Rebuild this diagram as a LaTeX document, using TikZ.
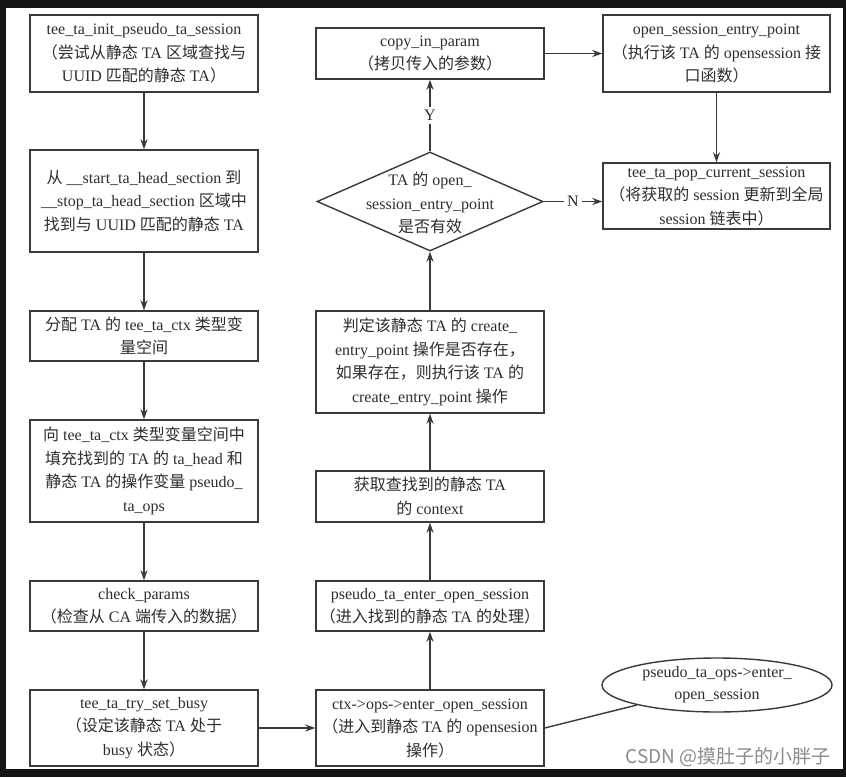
\documentclass[tikz,border=0pt]{standalone}
\usepackage{fontspec}
\setmainfont{Liberation Serif}
\newfontfamily\cjk{Noto Sans CJK SC}
\newcommand{\zh}[1]{{\cjk #1}}
\usetikzlibrary{arrows.meta,shapes.geometric}
\definecolor{ink}{HTML}{2E2E2E}
\definecolor{edge}{HTML}{3A3A3A}
\definecolor{frame}{HTML}{151517}
\begin{document}
\begin{tikzpicture}[x=1pt,y=-1pt,
  box/.style={draw=edge,line width=1.4pt,rectangle,inner sep=0pt,align=center,
    text=ink,font=\fontsize{16}{23.5}\selectfont,minimum width=228pt},
  arr/.style={draw=edge,line width=1.4pt,-{Stealth[length=10pt,width=7pt]}},
  plain/.style={draw=edge,line width=1.4pt},
  lbl/.style={fill=white,inner sep=3pt,text=ink,font=\fontsize{16}{19}\selectfont}]
\useasboundingbox (0,0) rectangle (846,777);
\fill[frame] (0,0) rectangle (846,777);
\fill[white] (6,8) rectangle (843,769);
% left column
\node[box,minimum height=77pt] (b1) at (144,53.5) {tee\_ta\_init\_pseudo\_ta\_session\\\zh{（尝试从静态} TA \zh{区域查找与}\\UUID \zh{匹配的静态} TA\zh{）}};
\node[box,minimum height=102pt] (b2) at (144,201) {\zh{从} \_\_start\_ta\_head\_section \zh{到}\\\_\_stop\_ta\_head\_section \zh{区域中}\\\zh{找到与} UUID \zh{匹配的静态} TA};
\node[box,minimum height=50pt] (b3) at (144,336) {\zh{分配} TA \zh{的} tee\_ta\_ctx \zh{类型变}\\\zh{量空间}};
\node[box,minimum height=102pt] (b4) at (144,471) {\zh{向} tee\_ta\_ctx \zh{类型变量空间中}\\\zh{填充找到的} TA \zh{的} ta\_head \zh{和}\\\zh{静态} TA \zh{的操作变量} pseudo\_\\ta\_ops};
\node[box,minimum height=50pt] (b5) at (144,606) {check\_params\\\zh{（检查从} CA \zh{端传入的数据）}};
\node[box,minimum height=76pt] (b6) at (144,728) {tee\_ta\_try\_set\_busy\\\zh{（设定该静态} TA \zh{处于}\\busy \zh{状态）}};
% middle column
\node[box,minimum height=51pt] (m1) at (430,53.5) {copy\_in\_param\\\zh{（拷贝传入的参数）}};
\node[draw=edge,line width=1.4pt,diamond,inner sep=0pt,minimum width=226pt,minimum height=99pt] (dia) at (430,201.5) {};
\node[text=ink,align=center,font=\fontsize{16}{23.5}\selectfont,inner sep=0pt] (diat) at (430,203) {TA \zh{的} open\_\\session\_entry\_point\\\zh{是否有效}};
\node[box,minimum height=102pt] (m3) at (430,362) {\zh{判定该静态} TA \zh{的} create\_\\entry\_point \zh{操作是否存在，}\\\zh{如果存在，则执行该} TA \zh{的}\\create\_entry\_point \zh{操作}};
\node[box,minimum height=51pt] (m4) at (430,496.5) {\zh{获取查找到的静态} TA\\\zh{的} context};
\node[box,minimum height=50pt] (m5) at (430,606) {pseudo\_ta\_enter\_open\_session\\\zh{（进入找到的静态} TA \zh{的处理）}};
\node[box,minimum height=76pt] (m6) at (430,728) {ctx->ops->enter\_open\_session\\\zh{（进入到静态} TA \zh{的} opensesion\\\zh{操作）}};
% right column
\node[box,minimum width=227pt,minimum height=77pt] (r1) at (716.5,53.5) {open\_session\_entry\_point\\\zh{（执行该} TA \zh{的} opensession \zh{接}\\\zh{口函数）}};
\node[box,minimum width=227pt,minimum height=66pt] (r2) at (716.5,196) {tee\_ta\_pop\_current\_session\\\zh{（将获取的} session \zh{更新到全局}\\session \zh{链表中）}};
\node[draw=edge,line width=1.4pt,ellipse,inner sep=0pt,minimum width=230pt,minimum height=54pt,align=center,text=ink,font=\fontsize{16}{22}\selectfont] (ell) at (717,685) {pseudo\_ta\_ops->enter\_\\open\_session};
% connectors
\draw[arr] (b1) -- (b2);
\draw[arr] (b2) -- (b3);
\draw[arr] (b3) -- (b4);
\draw[arr] (b4) -- (b5);
\draw[arr] (b5) -- (b6);
\draw[arr] (b6) -- (m6);
\draw[arr] (m6) -- (m5);
\draw[arr] (m5) -- (m4);
\draw[arr] (m4) -- (m3);
\draw[arr] (m3) -- (dia.south);
\draw[arr] (dia.north) -- node[lbl] {Y} (m1);
\draw[arr] (m1) -- (r1);
\draw[arr] (r1) -- (r2);
\draw[arr] (dia.east) -- node[lbl] {N} (dia.east -| r2.west);
\draw[plain] (m6.east) -- (ell);
% watermark
\node[text=black!45,font=\cjk\fontsize{19}{22}\selectfont,inner sep=0pt,anchor=east] (wm) at (831,757) {CSDN @摸肚子的小胖子};
\end{tikzpicture}
\end{document}
